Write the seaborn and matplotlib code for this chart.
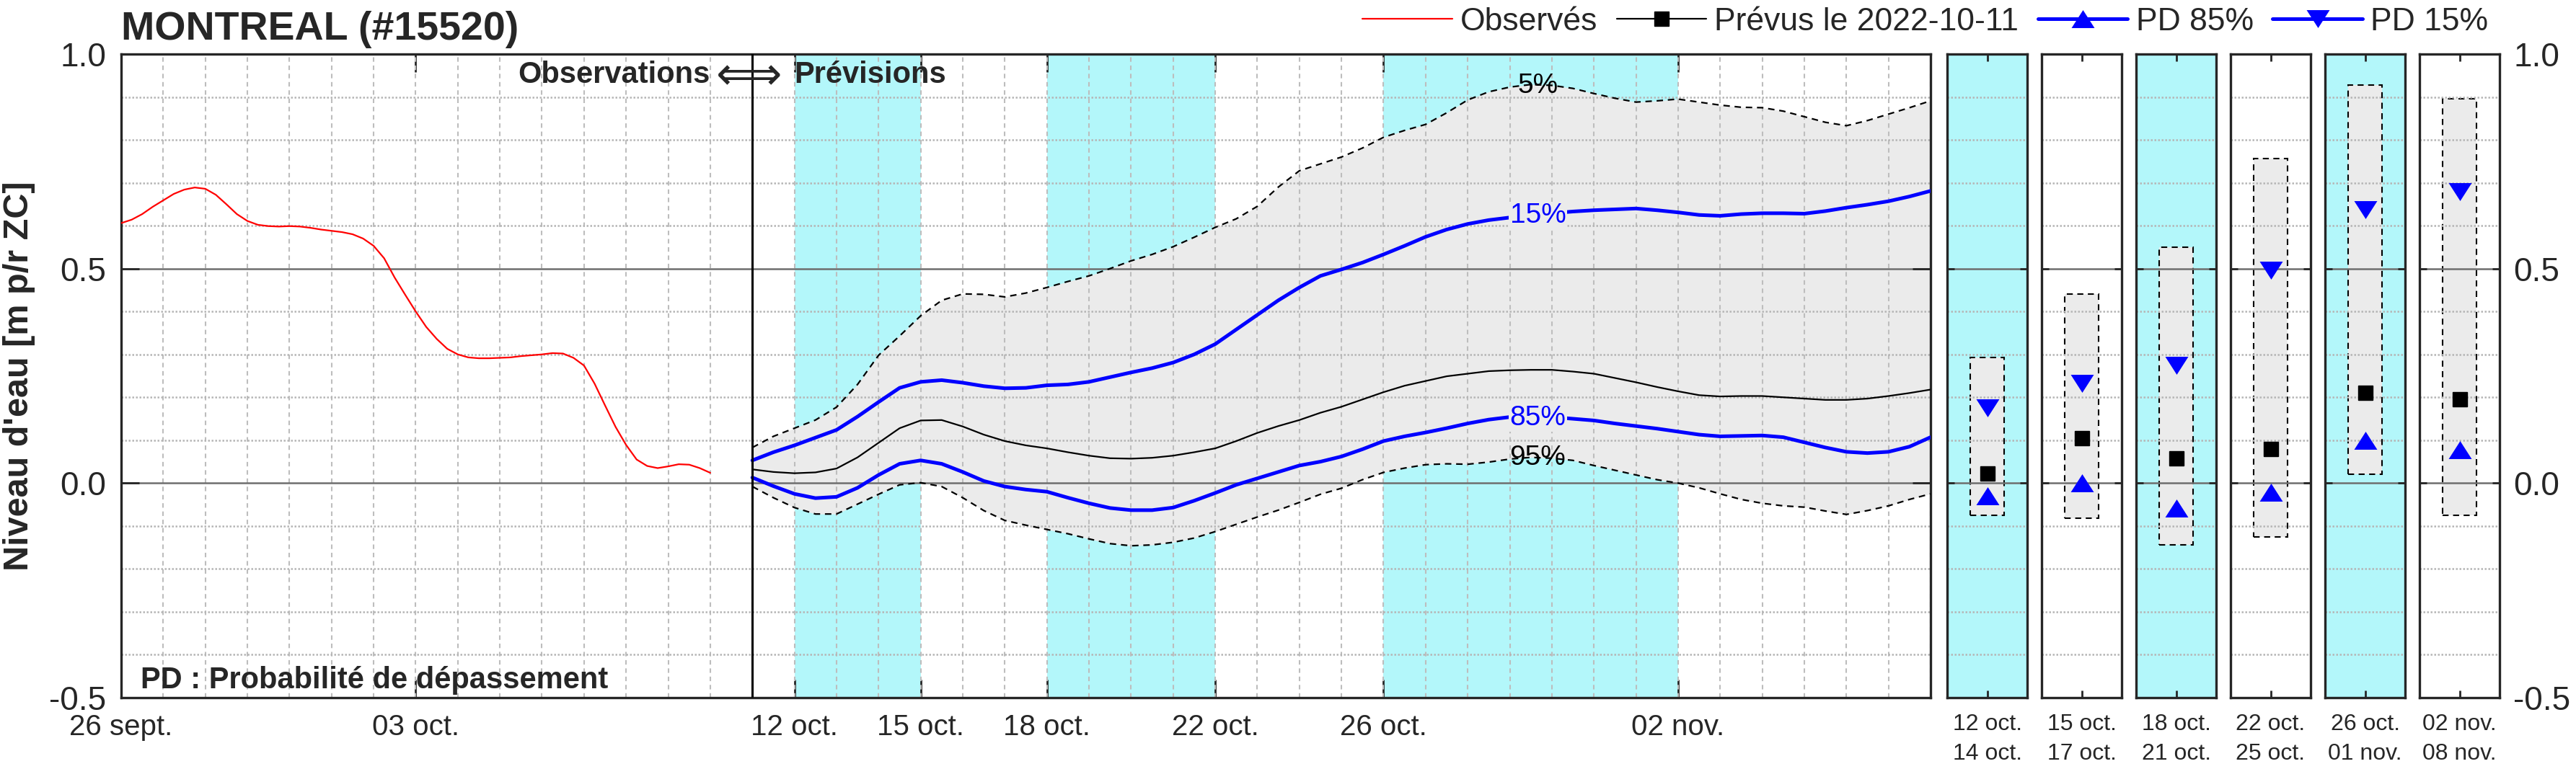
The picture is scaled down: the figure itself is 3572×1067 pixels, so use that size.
import numpy as np
import pandas as pd
import matplotlib
matplotlib.use("Agg")
import matplotlib.pyplot as plt
import matplotlib.dates as mdates
from matplotlib.ticker import MultipleLocator, FixedLocator, NullFormatter, FixedFormatter
from matplotlib.lines import Line2D
import seaborn as sns

# ---------------- data ----------------
obs_start = "2022-09-26"
observed = [0.606, 0.614, 0.627, 0.644, 0.659, 0.674, 0.684, 0.689, 0.686, 0.672,
            0.650, 0.627, 0.611, 0.602, 0.599, 0.598, 0.599, 0.598, 0.595, 0.591,
            0.588, 0.585, 0.580, 0.570, 0.553, 0.524, 0.479, 0.439, 0.400, 0.364,
            0.336, 0.313, 0.300, 0.293, 0.291, 0.291, 0.292, 0.293, 0.296, 0.298,
            0.300, 0.303, 0.302, 0.292, 0.274, 0.232, 0.181, 0.131, 0.089, 0.055,
            0.040, 0.035, 0.039, 0.044, 0.043, 0.035, 0.024]

fc_start = "2022-10-11"
p05 = [0.083, 0.109, 0.128, 0.147, 0.177, 0.230, 0.298, 0.343, 0.390, 0.426,
       0.441, 0.440, 0.434, 0.443, 0.456, 0.470, 0.483, 0.500, 0.518, 0.533,
       0.551, 0.573, 0.596, 0.616, 0.645, 0.690, 0.728, 0.744, 0.760,
       0.781, 0.806, 0.822, 0.836, 0.863, 0.893, 0.912, 0.923, 0.929, 0.927,
       0.920, 0.908, 0.897, 0.888, 0.891, 0.895, 0.888, 0.881, 0.876, 0.875,
       0.867, 0.854, 0.841, 0.833, 0.845, 0.860, 0.875, 0.891]
p15 = [0.053, 0.072, 0.088, 0.106, 0.124, 0.155, 0.189, 0.222, 0.236, 0.240,
       0.234, 0.226, 0.221, 0.222, 0.228, 0.230, 0.236, 0.247, 0.258, 0.268,
       0.281, 0.300, 0.324, 0.358, 0.392, 0.426, 0.456, 0.483, 0.498,
       0.514, 0.533, 0.553, 0.574, 0.591, 0.604, 0.613, 0.619, 0.625, 0.629,
       0.633, 0.636, 0.638, 0.640, 0.636, 0.631, 0.625, 0.623, 0.627, 0.629,
       0.629, 0.628, 0.634, 0.642, 0.649, 0.657, 0.668, 0.681]
fc_mean = [0.032, 0.026, 0.023, 0.025, 0.034, 0.060, 0.094, 0.128, 0.146, 0.147,
           0.132, 0.113, 0.098, 0.088, 0.081, 0.072, 0.064, 0.058, 0.057, 0.059,
           0.064, 0.072, 0.081, 0.098, 0.117, 0.133, 0.147, 0.164, 0.178,
           0.195, 0.212, 0.227, 0.238, 0.249, 0.255, 0.261, 0.263, 0.264, 0.264,
           0.260, 0.255, 0.245, 0.235, 0.224, 0.214, 0.205, 0.202, 0.203, 0.203,
           0.200, 0.197, 0.194, 0.194, 0.197, 0.203, 0.210, 0.218]
p85 = [0.013, -0.007, -0.025, -0.035, -0.032, -0.011, 0.019, 0.045, 0.053, 0.045,
       0.026, 0.005, -0.008, -0.015, -0.020, -0.034, -0.047, -0.058, -0.063, -0.063,
       -0.057, -0.041, -0.023, -0.004, 0.011, 0.026, 0.041, 0.050, 0.062,
       0.079, 0.098, 0.109, 0.118, 0.128, 0.139, 0.148, 0.154, 0.155, 0.154,
       0.150, 0.146, 0.139, 0.133, 0.127, 0.120, 0.113, 0.109, 0.110, 0.111,
       0.107, 0.095, 0.083, 0.073, 0.070, 0.073, 0.085, 0.107]
p95 = [-0.008, -0.034, -0.057, -0.072, -0.072, -0.049, -0.026, -0.004, 0.001, -0.008,
       -0.034, -0.064, -0.087, -0.098, -0.108, -0.118, -0.130, -0.141, -0.146, -0.144,
       -0.138, -0.128, -0.113, -0.096, -0.079, -0.063, -0.045, -0.026, -0.012,
       0.008, 0.025, 0.035, 0.043, 0.045, 0.044, 0.049, 0.056, 0.060, 0.058,
       0.053, 0.041, 0.030, 0.019, 0.008, 0.000, -0.011, -0.025, -0.038, -0.047,
       -0.053, -0.056, -0.065, -0.073, -0.064, -0.053, -0.038, -0.025]

tick_dates = ["2022-09-26", "2022-10-03", "2022-10-12", "2022-10-15",
              "2022-10-18", "2022-10-22", "2022-10-26", "2022-11-02"]
tick_labels = ["26 sept.", "03 oct.", "12 oct.", "15 oct.",
               "18 oct.", "22 oct.", "26 oct.", "02 nov."]
shaded_periods = [("2022-10-12", "2022-10-15"), ("2022-10-18", "2022-10-22"),
                  ("2022-10-26", "2022-11-02")]

period_labels = ["12 oct.\n14 oct.", "15 oct.\n17 oct.", "18 oct.\n21 oct.",
                 "22 oct.\n25 oct.", "26 oct.\n01 nov.", "02 nov.\n08 nov."]
period_shaded = [True, False, True, False, True, False]
period_hi = [0.293, 0.440, 0.550, 0.757, 0.928, 0.896]
period_lo = [-0.075, -0.081, -0.144, -0.126, 0.020, -0.075]
period_mean = [0.023, 0.104, 0.058, 0.079, 0.210, 0.196]
period_pd15 = [0.175, 0.232, 0.274, 0.496, 0.638, 0.680]
period_pd85 = [-0.030, 0.000, -0.059, -0.021, 0.100, 0.077]

# ---------------- style ----------------
sns.set_theme(style="white")
plt.rcParams["font.family"] = ["Liberation Sans", "DejaVu Sans"]
plt.rcParams["axes.edgecolor"] = "#262626"
plt.rcParams["axes.linewidth"] = 2.4

CYAN = (0.70, 0.97, 0.98)
GRAY = "#ebebeb"
MAJ_GRID = "#6e6e6e"
MIN_GRID = "#b5b5b5"

W, H = 3572, 1067
fig = plt.figure(figsize=(W / 100, H / 100), dpi=100)

def fx(px):
    return px / W

def fy(py):
    return 1 - py / H

top_px, bot_px = 75, 968
ax = fig.add_axes([fx(168), fy(bot_px), fx(2677 - 168), (bot_px - top_px) / H])

obs_t = pd.date_range(obs_start, periods=len(observed), freq="6h")
fc_t = pd.date_range(fc_start, periods=len(p05), freq="12h")
df_obs = pd.DataFrame({"t": obs_t, "v": observed})
df_fc = pd.DataFrame({"t": fc_t, "p05": p05, "p15": p15, "mean": fc_mean,
                      "p85": p85, "p95": p95})

for a, b in shaded_periods:
    ax.axvspan(pd.Timestamp(a), pd.Timestamp(b), color=CYAN, lw=0, zorder=0.1)

ax.fill_between(df_fc["t"], df_fc["p95"], df_fc["p05"], color=GRAY, lw=0, zorder=0.3)

sns.lineplot(data=df_obs, x="t", y="v", ax=ax, color="red", lw=1.6, zorder=3,
             estimator=None, sort=False, legend=False)
for col, kw in [("p05", dict(color="black", lw=1.6, ls=(0, (4, 3)))),
                ("p95", dict(color="black", lw=1.6, ls=(0, (4, 3)))),
                ("mean", dict(color="black", lw=1.6)),
                ("p15", dict(color="#0000ff", lw=3.6)),
                ("p85", dict(color="#0000ff", lw=3.6))]:
    sns.lineplot(data=df_fc, x="t", y=col, ax=ax, zorder=3, estimator=None,
                 sort=False, legend=False, **kw)

ax.axvline(pd.Timestamp(fc_start), color="black", lw=2.2, zorder=4)

ax.set_xlim(pd.Timestamp("2022-09-26"), pd.Timestamp("2022-11-08"))
ax.set_ylim(-0.5, 1.0)
ax.set_xlabel("")
ax.set_ylabel("")

ax.xaxis.set_major_locator(FixedLocator(mdates.date2num(pd.to_datetime(tick_dates))))
ax.xaxis.set_major_formatter(FixedFormatter(tick_labels))
ax.xaxis.set_minor_locator(mdates.DayLocator())
ax.xaxis.set_minor_formatter(NullFormatter())
ax.xaxis.remove_overlapping_locs = False
ax.yaxis.set_major_locator(MultipleLocator(0.5))
ax.yaxis.set_major_formatter(matplotlib.ticker.FormatStrFormatter("%.1f"))
ax.yaxis.set_minor_locator(MultipleLocator(0.1))

ax.set_axisbelow(True)
ax.yaxis.grid(True, which="major", color=MAJ_GRID, lw=1.8, ls="-")
ax.yaxis.grid(True, which="minor", color=MIN_GRID, lw=1.8, ls=(0, (1, 1)))
ax.xaxis.grid(True, which="minor", color="#bdbdbd", lw=1.5, ls=(0, (3, 2.5)))
ax.xaxis.grid(False, which="major")

ax.tick_params(axis="x", which="major", direction="in", top=True, bottom=True,
               length=18, width=2, labelsize=29, pad=16, colors="#262626")
ax.tick_params(axis="y", which="major", direction="in", left=True, right=True,
               length=18, width=2, labelsize=33, pad=15, colors="#262626")
ax.tick_params(which="minor", length=0)

# curve labels
lab_x = pd.Timestamp("2022-10-29 16:00")
ax.text(lab_x, 0.926, "5%", color="black", fontsize=28, ha="center", va="center", zorder=5)
ax.text(lab_x, 0.623, "15%", color="#0000ff", fontsize=28, ha="center", va="center", zorder=5,
        bbox=dict(facecolor=GRAY, edgecolor="none", pad=1))
ax.text(lab_x, 0.152, "85%", color="#0000ff", fontsize=28, ha="center", va="center", zorder=5,
        bbox=dict(facecolor=GRAY, edgecolor="none", pad=1))
ax.text(lab_x, 0.059, "95%", color="black", fontsize=28, ha="center", va="center", zorder=5)

# observations / forecast header
y_hdr = 0.951
ax.text(pd.Timestamp("2022-10-10 00:00"), y_hdr, "Observations", fontsize=30,
        fontweight="bold", ha="right", va="center", zorder=6)
ax.text(pd.Timestamp("2022-10-10 22:00"), y_hdr - 0.004, "\u27fa", fontsize=46, ha="center",
        va="center", zorder=6, family=["DejaVu Sans"])
ax.text(pd.Timestamp("2022-10-12 00:00"), y_hdr, "Prévisions", fontsize=30,
        fontweight="bold", ha="left", va="center", zorder=6)

ax.text(0.0108, 0.027, "PD : Probabilité de dépassement", transform=ax.transAxes,
        fontsize=30, fontweight="bold", ha="left", va="center", zorder=6)

# ---------------- period panels ----------------
up_marker = [(-1, -0.78), (1, -0.78), (0, 0.78), (-1, -0.78)]
down_marker = [(-1, 0.78), (1, 0.78), (0, -0.78), (-1, 0.78)]

for i, lab in enumerate(period_labels):
    left = 2700 + 131 * i
    pax = fig.add_axes([fx(left), fy(bot_px), fx(111), (bot_px - top_px) / H])
    pax.set_facecolor(CYAN if period_shaded[i] else "white")
    pax.set_xlim(0, 1)
    pax.set_ylim(-0.5, 1.0)
    pax.bar([0.5], [period_hi[i] - period_lo[i]], bottom=[period_lo[i]], width=0.42,
            color=GRAY, edgecolor="black", linestyle=(0, (4, 3)), linewidth=1.5, zorder=0.3)
    pax.plot([0.5], [period_mean[i]], marker="s", ms=15, color="black", ls="none", zorder=3)
    pax.plot([0.5], [period_pd15[i]], marker=down_marker, ms=23, color="#0000ff",
             mec="none", ls="none", zorder=3)
    pax.plot([0.5], [period_pd85[i]], marker=up_marker, ms=23, color="#0000ff",
             mec="none", ls="none", zorder=3)
    pax.set_axisbelow(True)
    pax.yaxis.set_major_locator(MultipleLocator(0.5))
    pax.yaxis.set_minor_locator(MultipleLocator(0.1))
    pax.yaxis.grid(True, which="major", color=MAJ_GRID, lw=1.8, ls="-")
    pax.yaxis.grid(True, which="minor", color=MIN_GRID, lw=1.8, ls=(0, (1, 1)))
    pax.xaxis.grid(False)
    pax.set_xticks([0.5])
    pax.set_xticklabels([lab], linespacing=1.45)
    pax.tick_params(axis="x", which="major", direction="in", top=True, bottom=True,
                    length=7, width=2, labelsize=23, pad=16, colors="#262626")
    last = i == len(period_labels) - 1
    pax.tick_params(axis="y", which="major", direction="in", left=True, right=True,
                    length=7, width=2, labelsize=33, pad=14, colors="#262626",
                    labelleft=False, labelright=last)
    pax.tick_params(which="minor", length=0)
    if last:
        pax.yaxis.set_major_formatter(matplotlib.ticker.FormatStrFormatter("%.1f"))

# ---------------- titles, labels, legend ----------------
fig.text(fx(168), fy(55), "MONTREAL (#15520)", fontsize=40, fontweight="bold",
         ha="left", va="baseline")
fig.text(fx(27), fy(522), "Niveau d'eau [m p/r ZC]", fontsize=35, fontweight="bold",
         rotation=90, ha="center", va="center")

handles = [
    Line2D([], [], color="red", lw=1.6),
    Line2D([], [], color="black", lw=1.6, marker="s", ms=15),
    Line2D([], [], color="#0000ff", lw=3.6, marker=up_marker, ms=23, mec="none"),
    Line2D([], [], color="#0000ff", lw=3.6, marker=down_marker, ms=23, mec="none"),
]
labels = ["Observés", "Prévus le 2022-10-11", "PD 85%", "PD 15%"]
fig.legend(handles, labels, loc="center right", bbox_to_anchor=(fx(3450), fy(30)),
           ncol=4, frameon=False, fontsize=32, handlelength=2.8, handletextpad=0.25,
           columnspacing=0.6, borderpad=0, borderaxespad=0)

fig.savefig("out.png", dpi=100)
